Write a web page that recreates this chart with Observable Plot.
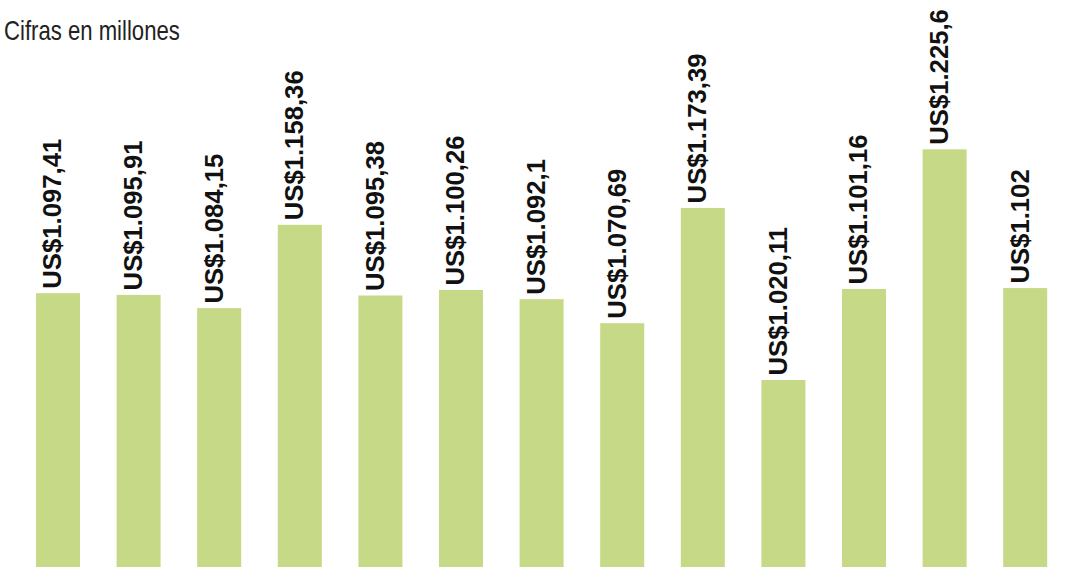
<!DOCTYPE html>
<html>
<head>
<meta charset="utf-8">
<script src="https://cdn.jsdelivr.net/npm/d3@7"></script>
<script src="https://cdn.jsdelivr.net/npm/@observablehq/plot@0.6"></script>
<style>
  html, body { margin: 0; padding: 0; background: #fff; }
  #wrap { position: relative; width: 1080px; height: 567px; overflow: hidden; }
  #title { position: absolute; left: 4px; top: 17px; font-family: "Liberation Sans", Arial, sans-serif; font-size: 28px; line-height: 28px; color: #222; z-index: 2; transform: scaleX(0.79); transform-origin: 0 0; white-space: nowrap; }
  #chart svg { display: block; }
</style>
</head>
<body>
<div id="wrap">
  <div id="title">Cifras en millones</div>
  <div id="chart"></div>
</div>
<script>
const ids = ["b1","b2","b3","b4","b5","b6","b7","b8","b9","b10","b11","b12","b13"];
const values = [1097.41, 1095.91, 1084.15, 1158.36, 1095.38, 1100.26, 1092.1, 1070.69, 1173.39, 1020.11, 1101.16, 1225.6, 1102];
const labels = ["US$1.097,41","US$1.095,91","US$1.084,15","US$1.158,36","US$1.095,38","US$1.100,26","US$1.092,1","US$1.070,69","US$1.173,39","US$1.020,11","US$1.101,16","US$1.225,6","US$1.102"];

const data = ids.map((id, i) => ({id, value: values[i], label: labels[i]}));
const yMin = 853.55;

const chart = Plot.plot({
  width: 1080,
  height: 567,
  marginTop: 0,
  marginBottom: 0,
  marginLeft: 0,
  marginRight: 0,
  x: {domain: ids, range: [-0.6, 1083.8], padding: 0.454, round: false, axis: null},
  y: {domain: [yMin, 1358.6], axis: null},
  marks: [
    Plot.barY(data, {x: "id", y1: yMin, y2: "value", fill: "#c5d986"}),
    Plot.text(data, {
      x: "id", y: "value", text: "label",
      rotate: -90, textAnchor: "start",
      dx: -5.5, dy: -5,
      fontSize: 26.5, fontWeight: "bold",
      fontFamily: "Liberation Sans",
      fill: "#111",
      className: "vlabels"
    })
  ]
});
d3.select(chart).selectAll(".vlabels text").each(function() {
  const t = this.getAttribute("transform") || "";
  this.setAttribute("transform", t + " scale(0.97,1)");
});
document.getElementById("chart").appendChild(chart);
</script>
</body>
</html>
